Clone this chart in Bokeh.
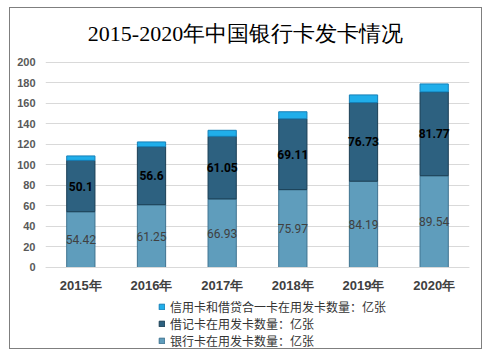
from bokeh.plotting import figure
from bokeh.models import (ColumnDataSource, Legend, LegendItem, LabelSet, Label,
                          Range1d, CategoricalAxis, FixedTicker)
from bokeh.embed import file_html
from bokeh.resources import INLINE
from bokeh.core.properties import value

years = ["2015年", "2016年", "2017年", "2018年", "2019年", "2020年"]
bank = [54.42, 61.25, 66.93, 75.97, 84.19, 89.54]
debit = [50.1, 56.6, 61.05, 69.11, 76.73, 81.77]
credit = [4.32, 4.65, 5.88, 6.86, 7.46, 7.78]
y_ticks = [0, 20, 40, 60, 80, 100, 120, 140, 160, 180, 200]
series_names = ["信用卡和借贷合一卡在用发卡数量：亿张", "借记卡在用发卡数量：亿张", "银行卡在用发卡数量：亿张"]
title_text = "2015-2020年中国银行卡发卡情况"

src = ColumnDataSource(dict(
    x=years, bank=bank, debit=debit, credit=credit,
    bank_lbl=[f"{v:g}" for v in bank],
    debit_lbl=[f"{v:g}" for v in debit],
    bank_mid=[b / 2 for b in bank],
    debit_mid=[b + d / 2 for b, d in zip(bank, debit)],
))

W, H = 473, 342
p = figure(x_range=years, y_range=Range1d(-80.98, 252.68), width=W, height=H,
           output_backend="svg", toolbar_location=None, x_axis_location=None,
           min_border_left=35, min_border_right=14, min_border_top=0, min_border_bottom=0)
p.margin = (7, 0, 0, 9)
p.styles = {"border": "1px solid #7f7f7f"}
p.outline_line_color = None
p.title.visible = False

rs = p.vbar_stack(["bank", "debit", "credit"], x="x", width=0.4, source=src,
                  color=["#5f9dbc", "#2d6180", "#20aeea"],
                  line_color=["#3f7390", "#1b3f55", "#1580b8"], line_width=1)

p.add_layout(LabelSet(x="x", y="bank_mid", text="bank_lbl", source=src,
                      text_align="center", text_baseline="middle",
                      text_font=value("Roboto"), text_font_size="12px", text_color="#404040"))
p.add_layout(LabelSet(x="x", y="debit_mid", text="debit_lbl", source=src,
                      text_align="center", text_baseline="middle",
                      text_font=value("Roboto"), text_font_size="12px", text_font_style="bold",
                      text_color="#000000"))

p.yaxis.ticker = FixedTicker(ticks=y_ticks)
p.yaxis.axis_line_color = None
p.yaxis.major_tick_line_color = None
p.yaxis.minor_tick_line_color = None
p.yaxis.major_label_text_font = "Liberation Sans"
p.yaxis.major_label_text_font_size = "11px"
p.yaxis.major_label_text_font_style = "bold"
p.yaxis.major_label_text_color = "#595959"
p.yaxis.major_label_standoff = 4

xax = CategoricalAxis(fixed_location=0)
xax.axis_line_color = "#d9d9d9"
xax.major_tick_line_color = None
xax.minor_tick_line_color = None
xax.major_label_text_font = "Liberation Sans"
xax.major_label_text_font_size = "13px"
xax.major_label_text_font_style = "bold"
xax.major_label_text_color = "#404040"
xax.major_label_standoff = 5
p.add_layout(xax, "below")

p.xgrid.grid_line_color = None
p.ygrid.ticker = FixedTicker(ticks=y_ticks)
p.ygrid.grid_line_color = "#d9d9d9"

p.add_layout(Label(x=2.83, y=228.3, text=title_text,
                   text_align="center", text_baseline="middle",
                   text_font="Liberation Serif", text_font_size="22px", text_color="#000000"))

legend = Legend(items=[LegendItem(label=series_names[0], renderers=[rs[2]]),
                       LegendItem(label=series_names[1], renderers=[rs[1]]),
                       LegendItem(label=series_names[2], renderers=[rs[0]])],
                location=(113, 1), orientation="vertical",
                glyph_width=7, glyph_height=7, label_text_font_size="12px",
                label_text_font="Noto Sans CJK SC", label_text_color="#333333",
                label_height=12, spacing=0, padding=0, margin=0, label_standoff=5,
                background_fill_alpha=0, border_line_color=None)
p.add_layout(legend)

open("out.html", "w").write(file_html(p, INLINE))
